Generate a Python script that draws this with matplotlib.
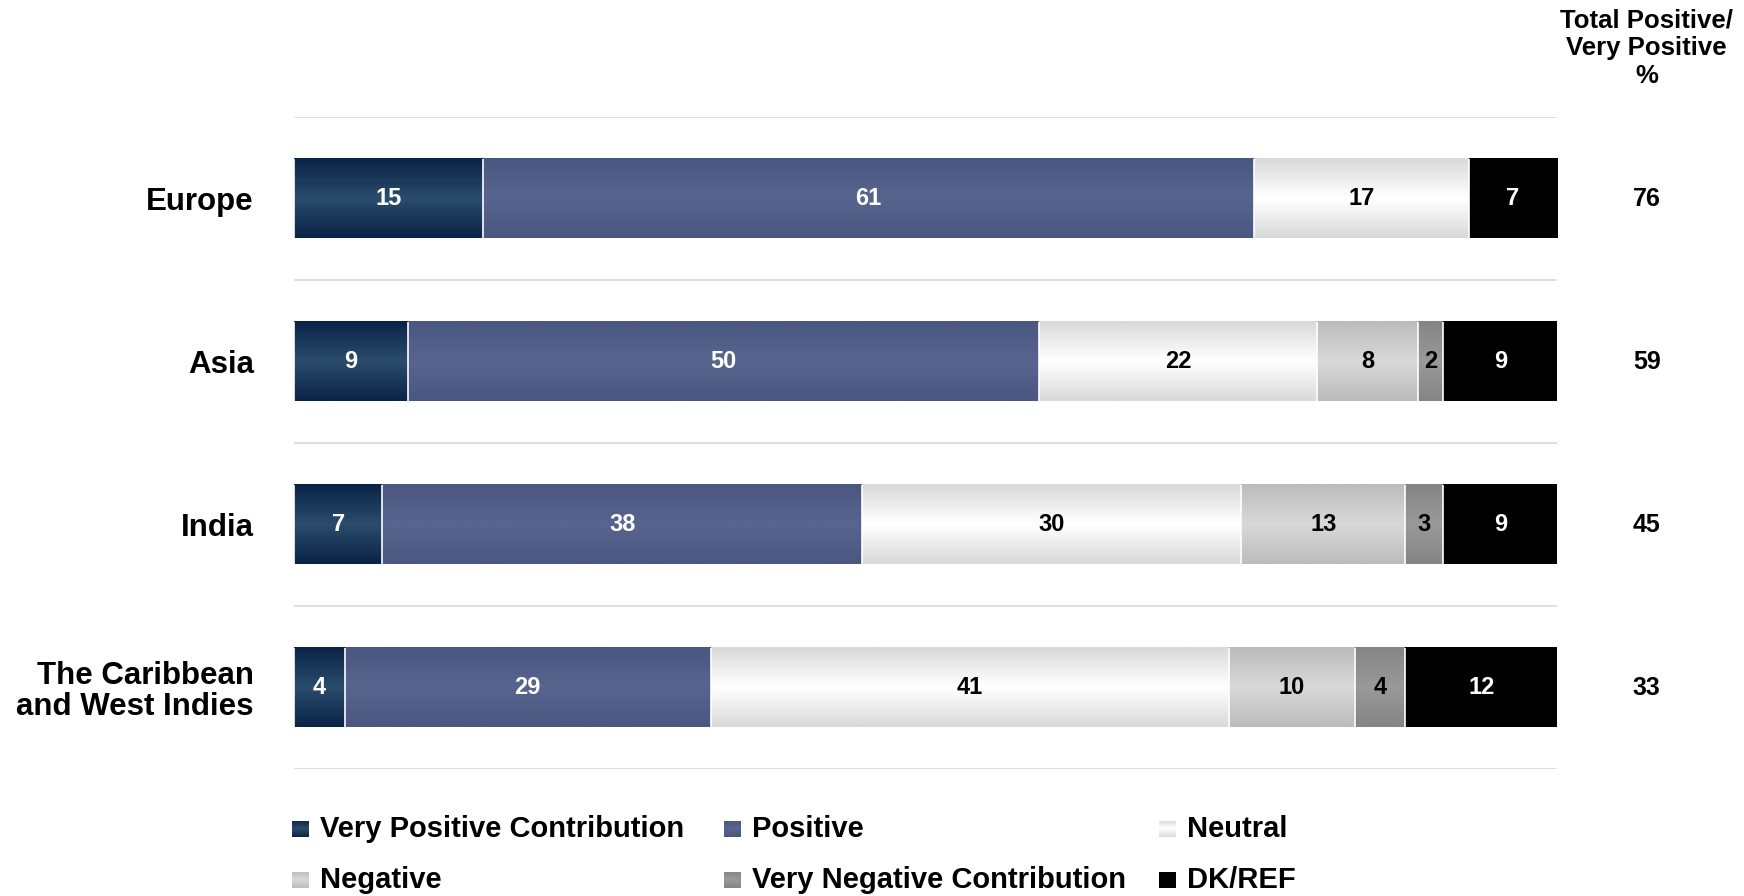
import numpy as np
import matplotlib.pyplot as plt
from matplotlib.colors import LinearSegmentedColormap

plt.rcParams['font.family'] = ['Liberation Sans', 'DejaVu Sans']
plt.rcParams['font.weight'] = 'bold'

regions = ["Europe", "Asia", "India", "The Caribbean\nand West Indies"]
series_names = ["Very Positive Contribution", "Positive", "Neutral",
                "Negative", "Very Negative Contribution", "DK/REF"]
very_positive = [15, 9, 7, 4]
positive = [61, 50, 38, 29]
neutral = [17, 22, 30, 41]
negative = [0, 8, 13, 10]
very_negative = [0, 2, 3, 4]
dk_ref = [7, 9, 9, 12]
total_positive = [76, 59, 45, 33]

# (edge colour, middle colour, label colour) for the gradient fill
styles = [
    ("#0a2447", "#2a4b6c", "white"),
    ("#4a5780", "#56648f", "white"),
    ("#d9d9d9", "#ffffff", "black"),
    ("#bcbcbc", "#d8d8d8", "black"),
    ("#858585", "#999999", "black"),
    ("#000000", "#000000", "white"),
]

series = [very_positive, positive, neutral, negative, very_negative, dk_ref]

fig = plt.figure(figsize=(17.44, 8.96), dpi=100)
ax = fig.add_axes([0.1686, 0.1417, 0.7242, 0.7277])

ypos = np.arange(len(regions))
bar_h = 0.49
grad = np.concatenate([np.linspace(0, 1, 32), np.linspace(1, 0, 32)]).reshape(-1, 1)

left = np.zeros(len(regions))
for vals, (edge, mid, tcol) in zip(series, styles):
    vals = np.array(vals, dtype=float)
    cmap = LinearSegmentedColormap.from_list("g", [edge, mid])
    keep = vals > 0
    for i, v in enumerate(vals):
        if v <= 0:
            continue
        ax.imshow(grad, cmap=cmap, aspect='auto', interpolation='bilinear',
                  extent=(left[i], left[i] + v, ypos[i] + bar_h / 2, ypos[i] - bar_h / 2),
                  zorder=2)
        ax.text(left[i] + v / 2, ypos[i], f"{int(v)}", ha='center', va='center',
                color=tcol, fontsize=17, fontweight='bold', zorder=4)
    # white separators between segments (left edge only)
    ax.vlines(left[keep], ypos[keep] - bar_h / 2, ypos[keep] + bar_h / 2,
              color='white', linewidth=1.2, zorder=3)
    left += vals

for y in np.arange(-0.5, len(regions), 1.0):
    ax.axhline(y, color='#d9d9d9', linewidth=1.2, zorder=1)

for i, t in enumerate(total_positive):
    ax.text(107.1, ypos[i], str(t), ha='center', va='center',
            fontsize=18, fontweight='bold', clip_on=False)

ax.set_xlim(0, 100)
ax.set_ylim(len(regions) - 0.5, -0.5)
ax.set_yticks(ypos)
ax.set_yticklabels(regions, fontsize=22.5, fontweight='bold', linespacing=1.05)
ax.tick_params(axis='y', length=0, pad=29)
ax.set_xticks([])
for s in ax.spines.values():
    s.set_visible(False)

fig.text(0.944, 0.946, "Total Positive/\nVery Positive\n%", ha='center', va='center',
         fontsize=18.5, fontweight='bold', linespacing=1.2)

# legend, laid out as in the original (3 columns x 2 rows)
leg_x = [0.1675, 0.4152, 0.6646]
leg_y = [0.0748, 0.0179]
for k, (name, (edge, mid, _)) in enumerate(zip(series_names, styles)):
    row, col = divmod(k, 3)
    x, y = leg_x[col], leg_y[row]
    ax_l = fig.add_axes([x, y - 0.009, 0.0097, 0.018])
    cmap = LinearSegmentedColormap.from_list("g", [edge, mid])
    ax_l.imshow(grad, cmap=cmap, aspect='auto', interpolation='bilinear')
    ax_l.axis('off')
    fig.text(x + 0.0158, y, name, ha='left', va='center', fontsize=21, fontweight='bold')

fig.savefig("out.png", dpi=100, facecolor='white')
